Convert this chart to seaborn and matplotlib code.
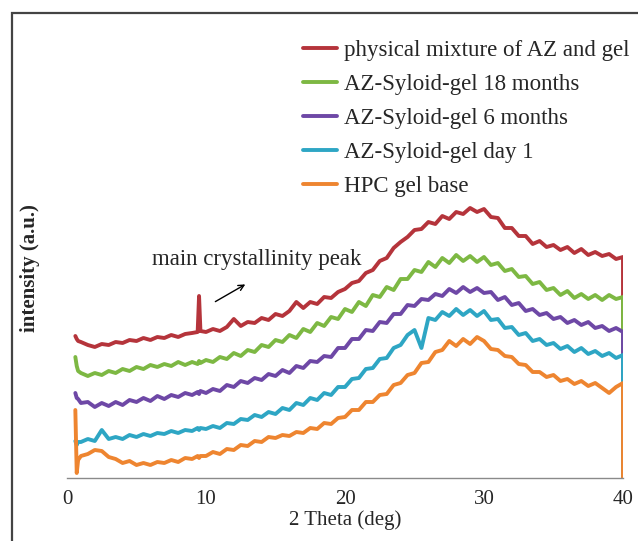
import numpy as np
import pandas as pd
import matplotlib
matplotlib.use("Agg")
import matplotlib.pyplot as plt
from matplotlib.patches import Rectangle
import seaborn as sns

# 2 theta sampling (deg); last point repeats 40 for the drop to baseline
two_theta = np.r_[0.6, 0.7, 0.8, np.arange(1.0, 9.01, 0.5), 9.4, 9.5, 9.6,
                  np.arange(10.0, 40.01, 0.5), 40.0]

# intensities (a.u.)
physical_mix = [142, 139, 137,
                136, 133, 131, 134, 133, 136, 135, 138, 137, 140, 138, 141, 140, 143, 141, 144, 145,
                146, 182, 147,
                146, 149, 147, 151, 159, 152, 156, 155, 160, 158,
                164, 162, 167, 176, 170, 176, 174, 181, 180, 186,
                189, 195, 197, 205, 208, 217, 220, 230, 236, 241,
                248, 249, 256, 254, 262, 259, 266, 264, 270, 266,
                269, 261, 260, 250, 250, 242, 242, 234, 237, 231,
                233, 228, 231, 225, 229, 223, 226, 222, 224, 219,
                221, 0]
months_18 = [121, 112, 107,
             105, 102, 105, 103, 107, 105, 109, 107, 111, 109, 113, 111, 114, 112, 116, 113, 116,
             114, 117, 115,
             118, 116, 121, 119, 125, 122, 128, 126, 133, 131,
             138, 136, 143, 140, 149, 146, 155, 152, 161, 159,
             169, 166, 176, 172, 183, 181, 191, 188, 199, 199,
             208, 206, 216, 211, 220, 215, 223, 217, 222, 216,
             221, 213, 215, 207, 209, 201, 202, 194, 196, 188,
             190, 183, 187, 180, 184, 179, 183, 178, 183, 179,
             181, 0]
months_6 = [85, 80, 79,
            75, 76, 71, 75, 72, 76, 73, 78, 76, 80, 77, 82, 79, 83, 81, 85, 83,
            86, 84, 87,
            85, 89, 87, 93, 91, 97, 95, 100, 98, 104,
            102, 108, 105, 112, 110, 117, 116, 122, 121, 130,
            130, 139, 139, 148, 147, 156, 155, 164, 164, 173,
            172, 179, 178, 184, 182, 189, 185, 191, 186, 190,
            185, 186, 178, 181, 173, 175, 167, 169, 163, 165,
            159, 161, 155, 158, 153, 156, 150, 152, 147, 150,
            146, 0]
day_1 = [37, 33, 36,
         36, 39, 37, 48, 39, 41, 39, 43, 41, 44, 42, 45, 44, 47, 45, 48, 47,
         50, 48, 50,
         49, 52, 50, 55, 54, 59, 58, 63, 61, 66,
         64, 70, 68, 75, 73, 80, 78, 85, 83, 91,
         91, 99, 100, 109, 110, 119, 120, 130, 133, 143,
         148, 130, 160, 158, 166, 162, 169, 163, 168, 162,
         167, 158, 159, 150, 151, 143, 145, 137, 139, 133,
         135, 129, 132, 126, 130, 124, 127, 122, 125, 120,
         123, 0]
gel_base = [68, 5, 18,
            22, 24, 28, 27, 21, 19, 15, 17, 13, 15, 13, 16, 15, 18, 16, 20, 19,
            22, 20, 22,
            22, 26, 24, 29, 28, 33, 32, 37, 36, 41,
            40, 43, 42, 46, 45, 50, 49, 55, 54, 60,
            61, 68, 68, 76, 76, 83, 84, 93, 95, 103,
            105, 115, 116, 126, 128, 137, 132, 139, 134, 141,
            137, 129, 128, 122, 121, 114, 113, 106, 106, 101,
            103, 97, 99, 94, 97, 92, 95, 90, 85, 91,
            95, 0]

labels = ["physical mixture of AZ and gel", "AZ-Syloid-gel 18 months",
          "AZ-Syloid-gel 6 months", "AZ-Syloid-gel day 1", "HPC gel base"]
colors = ["#B5343B", "#7DB843", "#6E48A6", "#2EA6C4", "#EE8530"]

frames = []
for lab, vals in zip(labels, [physical_mix, months_18, months_6, day_1, gel_base]):
    frames.append(pd.DataFrame({"theta": two_theta, "intensity": vals, "sample": lab}))
df = pd.concat(frames, ignore_index=True)

sns.set_style("white")
plt.rcParams["font.family"] = ["Liberation Serif", "DejaVu Serif"]

fig = plt.figure(figsize=(6.38, 5.41), dpi=100)
ax = fig.add_axes([67 / 638, 63 / 541, 556 / 638, 466 / 541])

sns.lineplot(data=df, x="theta", y="intensity", hue="sample", hue_order=labels,
             palette=colors, estimator=None, sort=False, linewidth=2.8, ax=ax)

ax.set_xlim(0, 40)
ax.set_ylim(0, 466)
ax.set_xticks([0, 10, 20, 30, 40])
ax.set_yticks([])
for s in ["left", "right", "top"]:
    ax.spines[s].set_visible(False)
ax.spines["bottom"].set_color("#8a8a8a")
ax.spines["bottom"].set_linewidth(1.0)
ax.tick_params(axis="x", direction="out", length=7, width=1.0, color="#8a8a8a",
               labelsize=15, pad=2)
ax.set_xlabel("2 Theta (deg)", fontsize=15, labelpad=0.5)
ax.set_ylabel("intensity (a.u.)", fontsize=15, fontweight="bold")
ax.yaxis.set_label_coords(-0.049, 0.451)

ax.annotate("", xy=(13.0, 195), xytext=(10.5, 175),
            arrowprops=dict(arrowstyle="->", color="black", lw=1.0))
ax.text(6.1, 219, "main crystallinity peak", fontsize=16.5, va="center", ha="left")

ax.legend(loc="upper left", bbox_to_anchor=(303 / 638, 1 - 40 / 541),
          bbox_transform=fig.transFigure, frameon=False, fontsize=16.5,
          handlelength=1.5, handletextpad=0.28, labelspacing=0.56, borderpad=0,
          borderaxespad=0)

fig.patches.append(Rectangle((12 / 638, -0.1), 1.2, 1.1 - 13 / 541, fill=False,
                             edgecolor="#444444", linewidth=1.6,
                             transform=fig.transFigure, figure=fig))

fig.savefig("out.png", dpi=100)
